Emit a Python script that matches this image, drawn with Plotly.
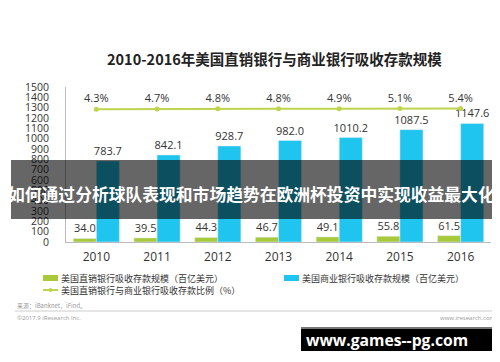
import plotly.graph_objects as go

years = ["2010", "2011", "2012", "2013", "2014", "2015", "2016"]
direct_bank = [34.0, 39.5, 44.3, 46.7, 49.1, 55.8, 61.5]
commercial_bank = [783.7, 842.1, 928.7, 982.0, 1010.2, 1087.5, 1147.6]
ratio_pct = [4.3, 4.7, 4.8, 4.8, 4.9, 5.1, 5.4]
y_ticks = list(range(0, 1501, 100))

series_names = [
    "美国直销银行吸收存款规模（百亿美元）",
    "美国商业银行吸收存款规模（百亿美元）",
    "美国直销银行与商业银行吸收存款比例（%）",
]

W, H = 500, 362
L, R, T, B = 58, 17, 79, 128
PW, PH = W - L - R, H - T - B


def px(x):
    return (x - L) / PW


def py(y):
    return (H - B - y) / PH


GREEN = "#A8C93A"
BLUE = "#1FC5EE"
LINE = "#BDD54E"
FONT = "Open Sans, Noto Sans CJK SC, sans-serif"
CJK = "Noto Sans CJK SC, sans-serif"

fig = go.Figure()
fig.add_trace(go.Bar(
    x=years, y=direct_bank, name=series_names[0], marker_color=GREEN,
    text=[f"{v:.1f}" for v in direct_bank], textposition="outside",
    textfont=dict(size=11, color="#333"), cliponaxis=False, constraintext="none",
    showlegend=False,
))
fig.add_trace(go.Bar(
    x=years, y=commercial_bank, name=series_names[1], marker_color=BLUE,
    text=[f"{v:.1f}" for v in commercial_bank], textposition="outside",
    textfont=dict(size=11, color="#333"), cliponaxis=False, constraintext="none",
    showlegend=False,
))
fig.add_trace(go.Scatter(
    x=years, y=ratio_pct, name=series_names[2], yaxis="y2",
    mode="lines+markers+text", line=dict(color=LINE, width=2),
    marker=dict(color=LINE, size=5),
    text=[f"{v}%" for v in ratio_pct], textposition="top center",
    textfont=dict(size=11, color="#333"), cliponaxis=False, showlegend=False,
))

fig.update_layout(
    width=W, height=H, margin=dict(l=L, r=R, t=T, b=B),
    paper_bgcolor="white", plot_bgcolor="white",
    barmode="group", bargap=0.24, bargroupgap=0,
    font=dict(family=FONT, color="#333"),
    xaxis=dict(showline=True, linecolor="#bbb", linewidth=1, ticks="",
               tickfont=dict(size=12, color="#333"), ticklabelstandoff=4,
               showgrid=False),
    yaxis=dict(range=[0, 1500], tickvals=y_ticks, showgrid=False,
               showline=True, linecolor="#bbb", linewidth=1, ticks="",
               tickfont=dict(size=10.5, color="#333"), ticklabelstandoff=14,
               zeroline=False),
    yaxis2=dict(overlaying="y", range=[-167, 33], visible=False),
)

annotations = []
shapes = []

# title
annotations.append(dict(text="<b>2010-2016年美国直销银行与商业银行吸收存款规模</b>",
                        x=px(266), y=py(50), xref="paper", yref="paper",
                        showarrow=False, font=dict(size=14.5, color="#222", family=CJK),
                        xanchor="center", yanchor="middle"))

# manual legend
leg = [(35, 270, GREEN, "bar"), (276, 270, BLUE, "bar"), (35, 282, LINE, "line")]
for (lx, ly, col, kind), name in zip(leg, series_names):
    if kind == "bar":
        shapes.append(dict(type="rect", xref="paper", yref="paper",
                           x0=px(lx), x1=px(lx + 15), y0=py(ly + 3), y1=py(ly - 3),
                           fillcolor=col, line=dict(width=0)))
    else:
        shapes.append(dict(type="line", xref="paper", yref="paper",
                           x0=px(lx), x1=px(lx + 15), y0=py(ly), y1=py(ly),
                           line=dict(color=col, width=2)))
        shapes.append(dict(type="circle", xref="paper", yref="paper",
                           x0=px(lx + 5.5), x1=px(lx + 9.5), y0=py(ly + 2), y1=py(ly - 2),
                           fillcolor=col, line=dict(width=0)))
    annotations.append(dict(text=name, x=px(lx + 16), y=py(ly), xref="paper", yref="paper",
                            showarrow=False, xanchor="left", yanchor="middle",
                            font=dict(size=9, color="#333", family=CJK)))

# source & footer
annotations.append(dict(text="来源：iBanknet，iFind。", x=px(7), y=py(297), xref="paper",
                        yref="paper", showarrow=False, xanchor="left", yanchor="middle",
                        font=dict(size=6, color="#999", family=CJK)))
shapes.append(dict(type="line", xref="paper", yref="paper", x0=px(7), x1=px(497),
                   y0=py(303), y1=py(303), line=dict(color="#ccc", width=1)))
annotations.append(dict(text="©2017.9 iResearch Inc.", x=px(7), y=py(310), xref="paper",
                        yref="paper", showarrow=False, xanchor="left", yanchor="middle",
                        font=dict(size=6, color="#999")))
annotations.append(dict(text="www.iresearch.com.cn", x=px(497), y=py(310), xref="paper",
                        yref="paper", showarrow=False, xanchor="right", yanchor="middle",
                        font=dict(size=6, color="#999")))

# overlay banner
shapes.append(dict(type="rect", xref="paper", yref="paper", layer="above",
                   x0=px(3), x1=px(500), y0=py(211), y1=py(152),
                   fillcolor="rgba(0,0,0,0.6)", line=dict(width=0)))
annotations.append(dict(text="<b>如何通过分析球队表现和市场趋势在欧洲杯投资中实现收益最大化</b>",
                        x=px(243), y=py(186), xref="paper", yref="paper",
                        showarrow=False, xanchor="center", yanchor="middle",
                        font=dict(size=16.8, color="white", family=CJK)))

# watermark box
shapes.append(dict(type="rect", xref="paper", yref="paper", layer="above",
                   x0=px(293), x1=px(491), y0=py(343), y1=py(319),
                   fillcolor="black", line=dict(width=0)))
shapes.append(dict(type="line", xref="paper", yref="paper", layer="above",
                   x0=px(293), x1=px(491), y0=py(320), y1=py(320),
                   line=dict(color="#777", width=2)))
annotations.append(dict(text="<b>www.games--pg.com</b>", x=px(379), y=py(332),
                        xref="paper", yref="paper", showarrow=False,
                        xanchor="center", yanchor="middle",
                        font=dict(size=15.7, color="white", family="Open Sans, DejaVu Sans, sans-serif")))

fig.update_layout(annotations=annotations, shapes=shapes)
fig.write_html("out.html")
